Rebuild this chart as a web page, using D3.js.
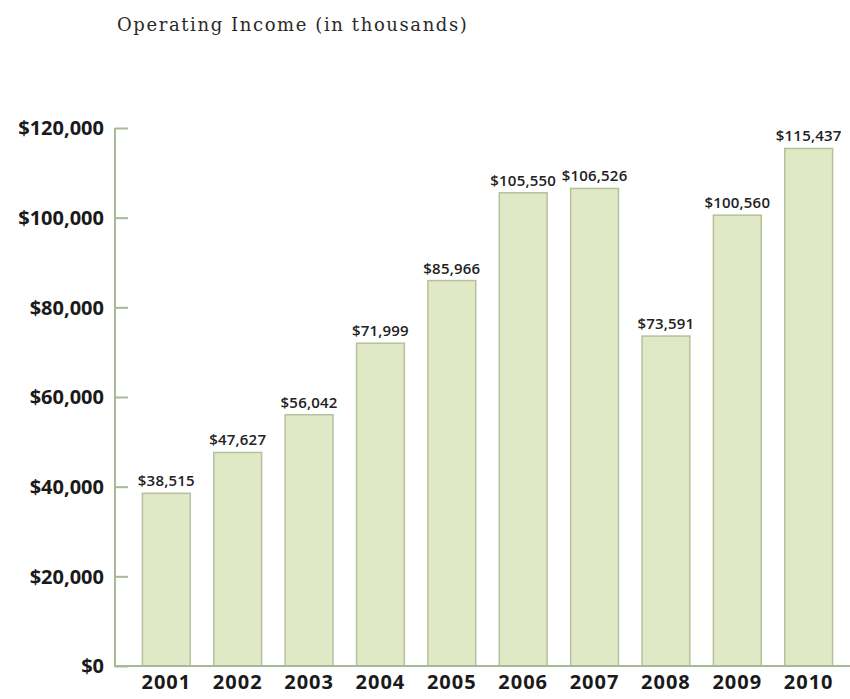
<!DOCTYPE html>
<html>
<head>
<meta charset="utf-8">
<script src="https://cdn.jsdelivr.net/npm/d3@7"></script>
<style>
  html, body { margin: 0; padding: 0; background: #fff; }
  svg { display: block; }
</style>
</head>
<body>
<svg id="chart" width="850" height="699"></svg>
<script>
// Operating income by year, in thousands of dollars
const years = ["2001", "2002", "2003", "2004", "2005", "2006", "2007", "2008", "2009", "2010"];
const income = [38515, 47627, 56042, 71999, 85966, 105550, 106526, 73591, 100560, 115437];
const yTicks = [0, 20000, 40000, 60000, 80000, 100000, 120000];

const svg = d3.select("#chart");
const axisColor = "#a9b996";
const labelFont = "'Open Sans', 'DejaVu Sans', sans-serif";

const x = d3.scaleBand()
  .domain(years)
  .range([131, 844])
  .paddingInner(0.33)
  .paddingOuter(0.16);

const y = d3.scaleLinear()
  .domain([0, 120000])
  .range([666, 128]);

const fmt = d3.format(",");

// Title
svg.append("text")
  .attr("x", 117)
  .attr("y", 31)
  .attr("font-family", "'DejaVu Serif', serif")
  .attr("font-size", 18)
  .attr("letter-spacing", 1.6)
  .attr("fill", "#2a2a2a")
  .text("Operating Income (in thousands)");

// Bars
svg.append("g")
  .selectAll("rect")
  .data(years)
  .join("rect")
  .attr("x", d => x(d))
  .attr("y", (d, i) => y(income[i]))
  .attr("width", x.bandwidth())
  .attr("height", (d, i) => y(0) - y(income[i]))
  .attr("fill", "#e1e8c5")
  .attr("stroke", "#b3c29c")
  .attr("stroke-width", 1.5);

// Value labels
svg.append("g")
  .selectAll("text")
  .data(years)
  .join("text")
  .attr("x", d => x(d) + x.bandwidth() / 2)
  .attr("y", (d, i) => y(income[i]) - 7)
  .attr("text-anchor", "middle")
  .attr("font-family", labelFont)
  .attr("font-weight", 600)
  .attr("font-size", 15)
  .attr("letter-spacing", 0.2)
  .attr("fill", "#222")
  .text((d, i) => "$" + fmt(income[i]));

// Y axis: ticks point inward
const yAxis = d3.axisRight(y)
  .tickValues(yTicks)
  .tickSize(13)
  .tickFormat("");
const gy = svg.append("g")
  .attr("transform", "translate(115,0)")
  .call(yAxis);
gy.select(".domain").remove();
gy.selectAll(".tick line").attr("stroke", axisColor).attr("stroke-width", 2);
gy.append("line")
  .attr("x1", 0).attr("x2", 0)
  .attr("y1", y(120000)).attr("y2", y(0))
  .attr("stroke", axisColor).attr("stroke-width", 2);

// Y tick labels
svg.append("g")
  .selectAll("text")
  .data(yTicks)
  .join("text")
  .attr("x", 104)
  .attr("y", d => y(d))
  .attr("dy", "0.36em")
  .attr("text-anchor", "end")
  .attr("font-family", labelFont)
  .attr("font-weight", 700)
  .attr("font-size", 20)
  .attr("fill", "#1a1a1a")
  .text(d => "$" + fmt(d));

// X axis
const xAxis = d3.axisBottom(x).tickSize(0).tickPadding(9);
const gx = svg.append("g")
  .attr("transform", `translate(0,${y(0)})`)
  .call(xAxis);
gx.select(".domain").remove();
gx.append("line")
  .attr("x1", 114).attr("x2", 850)
  .attr("y1", 0).attr("y2", 0)
  .attr("stroke", axisColor).attr("stroke-width", 2);
gx.selectAll(".tick text")
  .attr("font-family", labelFont)
  .attr("font-weight", 700)
  .attr("font-size", 20)
  .attr("letter-spacing", 1)
  .attr("fill", "#1a1a1a");
</script>
</body>
</html>
